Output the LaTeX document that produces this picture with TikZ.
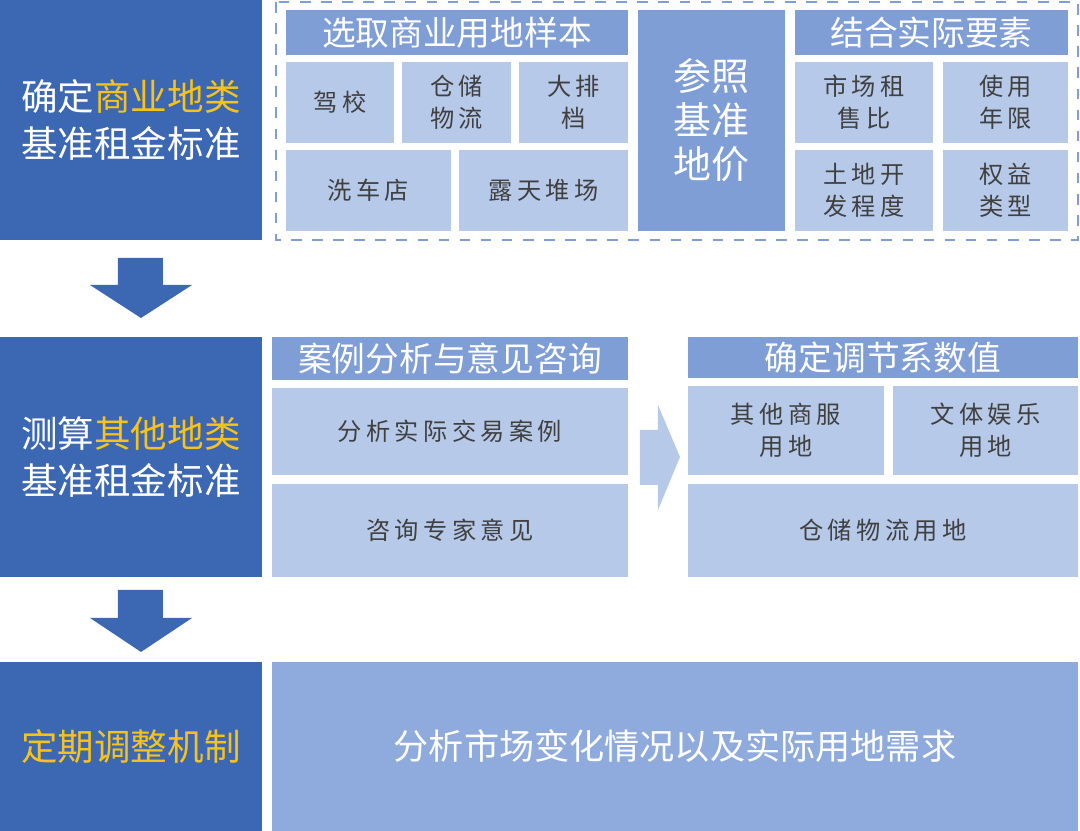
\documentclass[tikz,border=0pt]{standalone}
\usepackage{fontspec}
\newfontfamily\cjk{Noto Sans CJK SC}
\newfontfamily\cjkwide[LetterSpace=18]{Noto Sans CJK SC}
\usetikzlibrary{positioning}
\definecolor{darkB}{HTML}{3B67B3}
\definecolor{headB}{HTML}{7F9ED6}
\definecolor{cellB}{HTML}{B7C9E8}
\definecolor{bottomB}{HTML}{8FAADC}
\definecolor{textG}{HTML}{404040}
\definecolor{goldY}{HTML}{F7C21A}
\begin{document}
\begin{tikzpicture}[
        x=0.1mm, y=-0.1mm,
        wh/.style 2 args={
            minimum width=#1*0.1mm,
            minimum height=#2*0.1mm
        },
        boxS/.style={
            inner sep=0pt,
            align=center,
            font=\cjk
        },
        leftS/.style={
            boxS,
            fill=darkB,
            text=white,
            font=\cjk\fontsize{10.4pt}{13.5pt}\selectfont
        },
        headS/.style={
            boxS,
            fill=headB,
            text=white,
            font=\cjk\fontsize{9.6pt}{11pt}\selectfont
        },
        cellS/.style={
            boxS,
            fill=cellB,
            text=textG,
            font=\cjkwide\fontsize{6.9pt}{9pt}\selectfont
        },
        arrowS/.style={fill=darkB},
    ]
    \useasboundingbox (0,0) rectangle (1080,831);

    % left column
    \node[leftS,wh={262}{240}] (L1) at (131,120) {确定{\color{goldY}商业地类}\\基准租金标准};
    \node[leftS,wh={262}{240}] (L2) at (131,457) {测算{\color{goldY}其他地类}\\基准租金标准};
    \node[leftS,wh={262}{169}] (L3) at (131,746.5) {\color{goldY}定期调整机制};
    \fill[arrowS] (118,258) -- (163,258) -- (163,285) -- (192,285) -- (141,318) -- (90,285) -- (118,285) -- cycle;
    \fill[arrowS] (118,590) -- (163,590) -- (163,618) -- (192,618) -- (141,652) -- (90,618) -- (118,618) -- cycle;

    % first row
    \draw[headB,dashed,line width=0.5pt] (276,2) rectangle (1078,240);
    \node[headS,wh={342}{45}] (H1) at (457,32.5) {选取商业用地样本};
    \node[cellS,wh={108}{81}] (C1) at (340,102.5) {驾校};
    \node[cellS,wh={109}{81}] (C2) at (456.5,102.5) {仓储\\物流};
    \node[cellS,wh={109}{81}] (C3) at (573.5,102.5) {大排\\档};
    \node[cellS,wh={165}{81}] (C4) at (368.5,190.5) {洗车店};
    \node[cellS,wh={169}{81}] (C5) at (543.5,190.5) {露天堆场};
    \node[headS,wh={147}{221},font=\cjk\fontsize{10.8pt}{12.5pt}\selectfont] (R) at (711.5,120.5) {参照\\基准\\地价};
    \node[headS,wh={273}{45}] (H2) at (931.5,32.5) {结合实际要素};
    \node[cellS,wh={138}{81}] (F1) at (864,102.5) {市场租\\售比};
    \node[cellS,wh={125}{81}] (F2) at (1005.5,102.5) {使用\\年限};
    \node[cellS,wh={138}{81}] (F3) at (864,190.5) {土地开\\发程度};
    \node[cellS,wh={125}{81}] (F4) at (1005.5,190.5) {权益\\类型};

    % second row
    \node[headS,wh={356}{43}] (H3) at (450,358.5) {案例分析与意见咨询};
    \node[cellS,wh={356}{87}] (A1) at (450,431.5) {分析实际交易案例};
    \node[cellS,wh={356}{93}] (A2) at (450,530.5) {咨询专家意见};
    \fill[cellB] (640,430) -- (658,430) -- (658,405) -- (680,457) -- (658,510) -- (658,485) -- (640,485) -- cycle;
    \node[headS,wh={390}{41}] (H4) at (883,357.5) {确定调节系数值};
    \node[cellS,wh={196}{89}] (B1) at (786,430.5) {其他商服\\用地};
    \node[cellS,wh={185}{89}] (B2) at (985.5,430.5) {文体娱乐\\用地};
    \node[cellS,wh={390}{93}] (B3) at (883,530.5) {仓储物流用地};

    % third row
    \node[boxS,fill=bottomB,text=white,wh={806}{169},font=\cjk\fontsize{10pt}{12pt}\selectfont] (D) at (675,746.5) {分析市场变化情况以及实际用地需求};
\end{tikzpicture}
\end{document}
